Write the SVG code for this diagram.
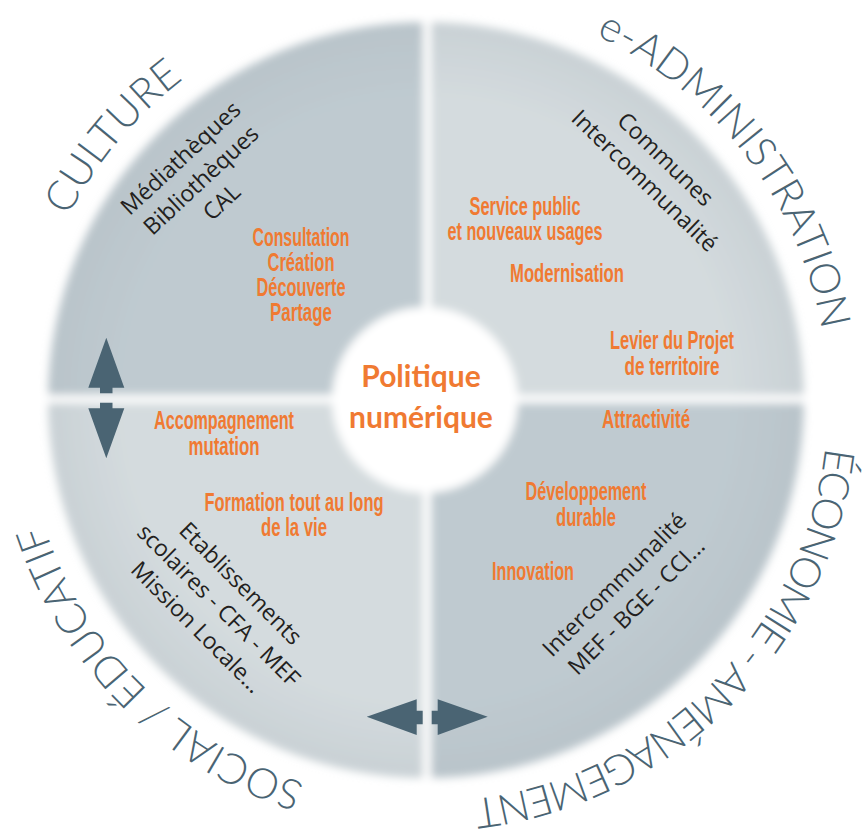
<svg xmlns="http://www.w3.org/2000/svg" xmlns:xlink="http://www.w3.org/1999/xlink" width="862" height="829" viewBox="0 0 862 829">
<style>
.ring{font-family:Lato,"Open Sans",sans-serif;font-weight:300;font-size:42px;fill:#4a6473}
.org{font-family:"Liberation Sans Narrow","Liberation Sans",Arial,sans-serif;font-weight:bold;font-size:25px;fill:#f07a32;text-anchor:middle}
.dark{font-family:"Open Sans","Noto Sans",sans-serif;font-size:23px;fill:#231f20;text-anchor:middle}
.title{font-family:Lato,"Open Sans",sans-serif;font-weight:700;font-size:30px;fill:#f07a32;text-anchor:middle}
.arrow{fill:#4a6473}
</style>
<defs>
<filter id="soft" x="-10%" y="-10%" width="120%" height="120%">
<feGaussianBlur stdDeviation="4"/>
</filter>
<radialGradient id="gLight" gradientUnits="userSpaceOnUse" cx="426" cy="400" r="378">
<stop offset="0.8" stop-color="#d4dbde"/>
<stop offset="1" stop-color="#c9d1d5"/>
</radialGradient>
<radialGradient id="gDark" gradientUnits="userSpaceOnUse" cx="426" cy="400" r="378">
<stop offset="0.8" stop-color="#bfcad0"/>
<stop offset="1" stop-color="#b9c4ca"/>
</radialGradient>
<path id="ringPath" d="M426,-2 A402,402 0 1 1 426,802 A402,402 0 1 1 426,-2"/>
</defs>
<rect width="862" height="829" fill="#ffffff"/>
<g id="disc" filter="url(#soft)">
<path d="M426,400 H48 A378,378 0 0 1 426,22 Z" fill="url(#gDark)"/>
<path d="M426,400 V22 A378,378 0 0 1 804,400 Z" fill="url(#gLight)"/>
<path d="M426,400 H804 A378,378 0 0 1 426,778 Z" fill="url(#gDark)"/>
<path d="M426,400 V778 A378,378 0 0 1 48,400 Z" fill="url(#gLight)"/>
<rect x="423" y="10" width="8" height="780" fill="#ffffff"/>
<rect x="36" y="395" width="780" height="8" fill="#ffffff"/>
<circle cx="425" cy="400" r="93" fill="#ffffff"/>
</g>
<g id="center">
<text class="title" x="421" y="387">Politique</text>
<text class="title" x="421" y="428">numérique</text>
</g>
<g id="culture">
<text class="ring"><textPath xlink:href="#ringPath" href="#ringPath" startOffset="2175" text-anchor="middle">CULTURE</textPath></text>
<g transform="translate(186,164) rotate(-43)">
<text class="dark" x="0" y="0">Médiathèques</text>
<text class="dark" x="0" y="30">Bibliothèques</text>
<text class="dark" x="0" y="60">CAL</text>
</g>
<text class="org" x="301" y="246" textLength="97" lengthAdjust="spacingAndGlyphs">Consultation</text>
<text class="org" x="301" y="271" textLength="67" lengthAdjust="spacingAndGlyphs">Création</text>
<text class="org" x="301" y="296" textLength="89" lengthAdjust="spacingAndGlyphs">Découverte</text>
<text class="org" x="301" y="321" textLength="62" lengthAdjust="spacingAndGlyphs">Partage</text>
</g>
<g id="e-administration">
<text class="ring"><textPath xlink:href="#ringPath" href="#ringPath" startOffset="368" text-anchor="middle">e-ADMINISTRATION</textPath></text>
<g transform="translate(660,165) rotate(44)">
<text class="dark" x="0" y="0">Communes</text>
<text class="dark" x="0" y="30">Intercommunalité</text>
</g>
<text class="org" x="525" y="215" textLength="111" lengthAdjust="spacingAndGlyphs">Service public</text>
<text class="org" x="525" y="240" textLength="155" lengthAdjust="spacingAndGlyphs">et nouveaux usages</text>
<text class="org" x="567" y="282" textLength="114" lengthAdjust="spacingAndGlyphs">Modernisation</text>
<text class="org" x="672" y="349" textLength="124" lengthAdjust="spacingAndGlyphs">Levier du Projet</text>
<text class="org" x="672" y="375" textLength="95" lengthAdjust="spacingAndGlyphs">de territoire</text>
</g>
<g id="economie-amenagement">
<text class="ring" letter-spacing="-2.2"><textPath xlink:href="#ringPath" href="#ringPath" startOffset="946" text-anchor="middle">ÉCONOMIE - AMÉNAGEMENT</textPath></text>
<g transform="translate(620,590) rotate(-45)">
<text class="dark" x="0" y="0">Intercommunalité</text>
<text class="dark" x="0" y="31">MEF - BGE - CCI...</text>
</g>
<text class="org" x="646" y="428" textLength="88" lengthAdjust="spacingAndGlyphs">Attractivité</text>
<text class="org" x="586" y="500" textLength="121" lengthAdjust="spacingAndGlyphs">Développement</text>
<text class="org" x="586" y="526" textLength="60" lengthAdjust="spacingAndGlyphs">durable</text>
<text class="org" x="533" y="580" textLength="82" lengthAdjust="spacingAndGlyphs">Innovation</text>
</g>
<g id="social-educatif">
<text class="ring"><textPath xlink:href="#ringPath" href="#ringPath" startOffset="1577" text-anchor="middle">SOCIAL / ÉDUCATIF</textPath></text>
<g transform="translate(235,589) rotate(45)">
<text class="dark" x="0" y="0">Etablissements</text>
<text class="dark" x="0" y="31">scolaires - CFA - MEF</text>
<text class="dark" x="0" y="62">Mission Locale...</text>
</g>
<text class="org" x="224" y="429" textLength="140" lengthAdjust="spacingAndGlyphs">Accompagnement</text>
<text class="org" x="224" y="455" textLength="71" lengthAdjust="spacingAndGlyphs">mutation</text>
<text class="org" x="294" y="511" textLength="179" lengthAdjust="spacingAndGlyphs">Formation tout au long</text>
<text class="org" x="294" y="536" textLength="66" lengthAdjust="spacingAndGlyphs">de la vie</text>
</g>
<g id="connectors">
<polygon class="arrow" points="106.3,337.7 124.3,387.7 112.5,387.7 112.5,393.3 100,393.3 100,387.7 88.3,387.7"/>
<polygon class="arrow" points="100,402.7 112.5,402.7 112.5,408.3 124.3,408.3 106.3,458.3 88.3,408.3 100,408.3"/>
<polygon class="arrow" points="366.7,716.7 416.7,699.3 416.7,710.7 422.7,710.7 422.7,724.3 416.7,724.3 416.7,735"/>
<polygon class="arrow" points="431.7,710.7 437.7,710.7 437.7,699.3 487.7,716.7 437.7,735 437.7,724.3 431.7,724.3"/>
</g>
</svg>
